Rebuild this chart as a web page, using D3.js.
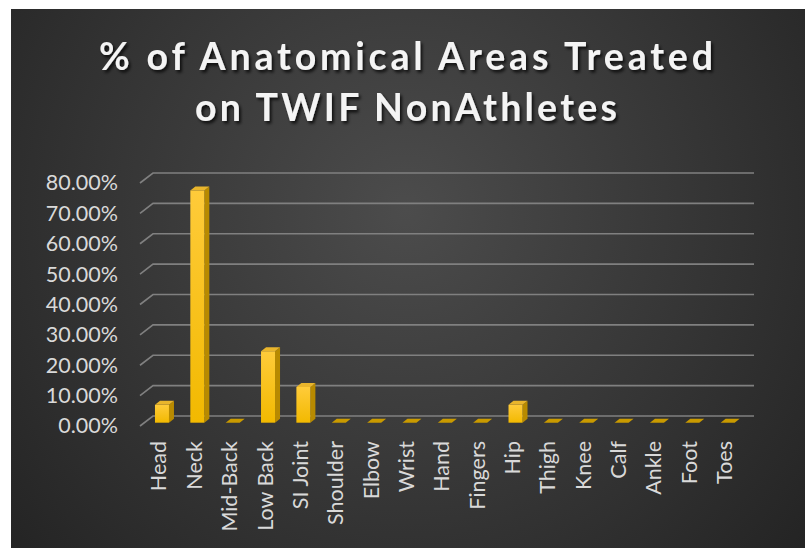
<!DOCTYPE html>
<html><head><meta charset="utf-8">
<script src="https://cdn.jsdelivr.net/npm/d3@7"></script>
<style>body{margin:0;background:#fff}svg{display:block}</style>
</head><body><svg id="c" width="812" height="548"></svg>
<script>
const categories = ["Head","Neck","Mid-Back","Low Back","SI Joint","Shoulder","Elbow","Wrist","Hand","Fingers","Hip","Thigh","Knee","Calf","Ankle","Foot","Toes"];
const values = [0.0588,0.7647,0,0.2353,0.1176,0,0,0,0,0,0.0588,0,0,0,0,0,0];
const yTicks = [0,0.1,0.2,0.3,0.4,0.5,0.6,0.7,0.8];
const titleLines = ["% of Anatomical Areas Treated","on TWIF NonAthletes"];

const svg = d3.select("#c");
const defs = svg.append("defs");

const bg = defs.append("radialGradient").attr("id","bg").attr("gradientUnits","userSpaceOnUse")
  .attr("cx",406).attr("cy",210).attr("r",520);
bg.append("stop").attr("offset","0").attr("stop-color","#4c4c4c");
bg.append("stop").attr("offset","1").attr("stop-color","#242424");

const fg = defs.append("linearGradient").attr("id","front").attr("x1",0).attr("y1",0).attr("x2",0).attr("y2",1);
fg.append("stop").attr("offset","0").attr("stop-color","#ffcb3a");
fg.append("stop").attr("offset","1").attr("stop-color","#f2b900");

const sh = defs.append("filter").attr("id","shadow").attr("x","-10%").attr("y","-30%").attr("width","120%").attr("height","160%");
sh.append("feDropShadow").attr("dx",2).attr("dy",2.5).attr("stdDeviation",1.8).attr("flood-color","#000").attr("flood-opacity",0.75);

svg.append("rect").attr("x",11).attr("y",9).attr("width",794).attr("height",539).attr("fill","url(#bg)");

// Title
const title = svg.append("g").attr("filter","url(#shadow)");
const titleY = [70, 121];
const titleW = [614, 422];
titleLines.forEach((t,i)=>{
  title.append("text").attr("x",406).attr("y",titleY[i]).attr("text-anchor","middle")
    .attr("font-family","Lato, 'Open Sans', sans-serif").attr("font-weight","bold")
    .attr("font-size",37.5).attr("fill","#f4f4f4")
    .attr("textLength",titleW[i]).attr("lengthAdjust","spacing")
    .text(t);
});

// Scales
const x = d3.scaleBand().domain(categories).range([153,754]);
const y = d3.scaleLinear().domain([0,0.8]).range([416,173]);
const DX = 13, DY = 10;       // back wall to front edge
const BX = -8.7, BY = 6.7;    // bar plane offset from back wall
const W = 14, SX = 5, SY = -4; // bar width and depth

// Gridlines (back wall + left diagonal)
const grid = svg.append("g").attr("stroke","#808080").attr("stroke-width",1.6).attr("fill","none");
yTicks.forEach(t=>{
  const yy = y(t);
  grid.append("path").attr("d",`M${x.range()[0]-DX},${yy+DY}L${x.range()[0]},${yy}L${x.range()[1]},${yy}`);
});

// Y labels
svg.append("g").selectAll("text").data(yTicks).join("text")
  .attr("x",118).attr("y",d=>y(d)+DY+2).attr("text-anchor","end").attr("dominant-baseline","middle")
  .attr("font-family","Lato, 'Open Sans', sans-serif").attr("font-size",21.5).attr("fill","#d9d9d9")
  .text(d=>d3.format(".2%")(d));

// Bars
const bars = svg.append("g");
categories.forEach((c,i)=>{
  const v = values[i];
  const cx = x(c) + x.bandwidth()/2 + BX;
  const y0 = y(0) + BY;
  const y1 = y(v) + BY;
  const l = cx - W/2, r = cx + W/2;
  if (v > 0) {
    bars.append("path").attr("d",`M${r},${y1}L${r+SX},${y1+SY}L${r+SX},${y0+SY}L${r},${y0}Z`).attr("fill","#b88a00");
    bars.append("rect").attr("x",l).attr("y",y1).attr("width",W).attr("height",y0-y1).attr("fill","url(#front)");
    bars.append("path").attr("d",`M${l},${y1}L${r},${y1}L${r+SX},${y1+SY}L${l+SX},${y1+SY}Z`).attr("fill","#e9b52c");
  } else {
    bars.append("path").attr("d",`M${l},${y0}L${r},${y0}L${r+SX},${y0+SY}L${l+SX},${y0+SY}Z`).attr("fill","#c99a00");
  }
});

// X labels
svg.append("g").selectAll("text").data(categories).join("text")
  .attr("transform",c=>`translate(${x(c)+x.bandwidth()/2+BX+4.5},441) rotate(-90)`)
  .attr("text-anchor","end")
  .attr("font-family","Lato, 'Open Sans', sans-serif").attr("font-size",21.5).attr("fill","#d9d9d9")
  .text(c=>c);
</script></body></html>
